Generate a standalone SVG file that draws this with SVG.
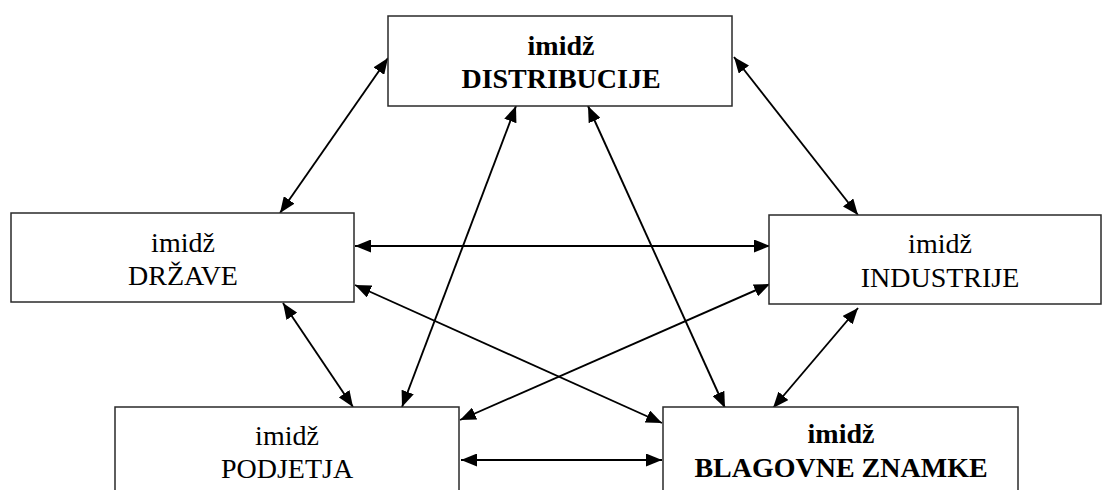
<svg xmlns="http://www.w3.org/2000/svg" width="1102" height="490" viewBox="0 0 1102 490">
  <style>
    .box { fill: #ffffff; stroke: #2a2a2a; stroke-width: 1.5; }
    .lbl { font-family: "Liberation Serif", "Times New Roman", serif; font-size: 28px; fill: #000000; text-anchor: middle; }
    .bold { font-weight: bold; }
    .link { stroke: #000000; stroke-width: 1.9; fill: none; marker-start: url(#head); marker-end: url(#head); }
  </style>
  <defs>
    <marker id="head" viewBox="0 0 16 13" refX="16" refY="6.5" markerWidth="16" markerHeight="13" markerUnits="userSpaceOnUse" orient="auto-start-reverse">
      <path d="M0,0 L16,6.5 L0,13 z" fill="#000000"/>
    </marker>
  </defs>
  <rect width="1102" height="490" fill="#ffffff"/>

  <g id="connectors">
    <line class="link" x1="280" y1="213" x2="388" y2="58"/>
    <line class="link" x1="734" y1="57" x2="858" y2="215"/>
    <line class="link" x1="355" y1="246" x2="770" y2="246"/>
    <line class="link" x1="283" y1="303" x2="353" y2="407"/>
    <line class="link" x1="516" y1="106" x2="402" y2="407"/>
    <line class="link" x1="588" y1="106" x2="725" y2="408"/>
    <line class="link" x1="355" y1="285" x2="662" y2="423"/>
    <line class="link" x1="770" y1="284" x2="460" y2="420"/>
    <line class="link" x1="858" y1="308" x2="773" y2="408"/>
    <line class="link" x1="461" y1="460" x2="662" y2="460"/>
  </g>

  <g id="distribucije">
    <rect class="box" x="388" y="16" width="344" height="90"/>
    <text class="lbl bold" x="561" y="55">imidž</text>
    <text class="lbl bold" x="561" y="88">DISTRIBUCIJE</text>
  </g>

  <g id="drzave">
    <rect class="box" x="11" y="213" width="343" height="89"/>
    <text class="lbl" x="183" y="252">imidž</text>
    <text class="lbl" x="183" y="285">DRŽAVE</text>
  </g>

  <g id="industrije">
    <rect class="box" x="769" y="215" width="332" height="89"/>
    <text class="lbl" x="940" y="253">imidž</text>
    <text class="lbl" x="940" y="287">INDUSTRIJE</text>
  </g>

  <g id="podjetja">
    <rect class="box" x="115" y="407" width="344" height="100"/>
    <text class="lbl" x="287" y="445">imidž</text>
    <text class="lbl" x="287" y="478">PODJETJA</text>
  </g>

  <g id="blagovne-znamke">
    <rect class="box" x="663" y="407" width="355" height="100"/>
    <text class="lbl bold" x="841" y="443">imidž</text>
    <text class="lbl bold" x="841" y="477">BLAGOVNE ZNAMKE</text>
  </g>
</svg>
